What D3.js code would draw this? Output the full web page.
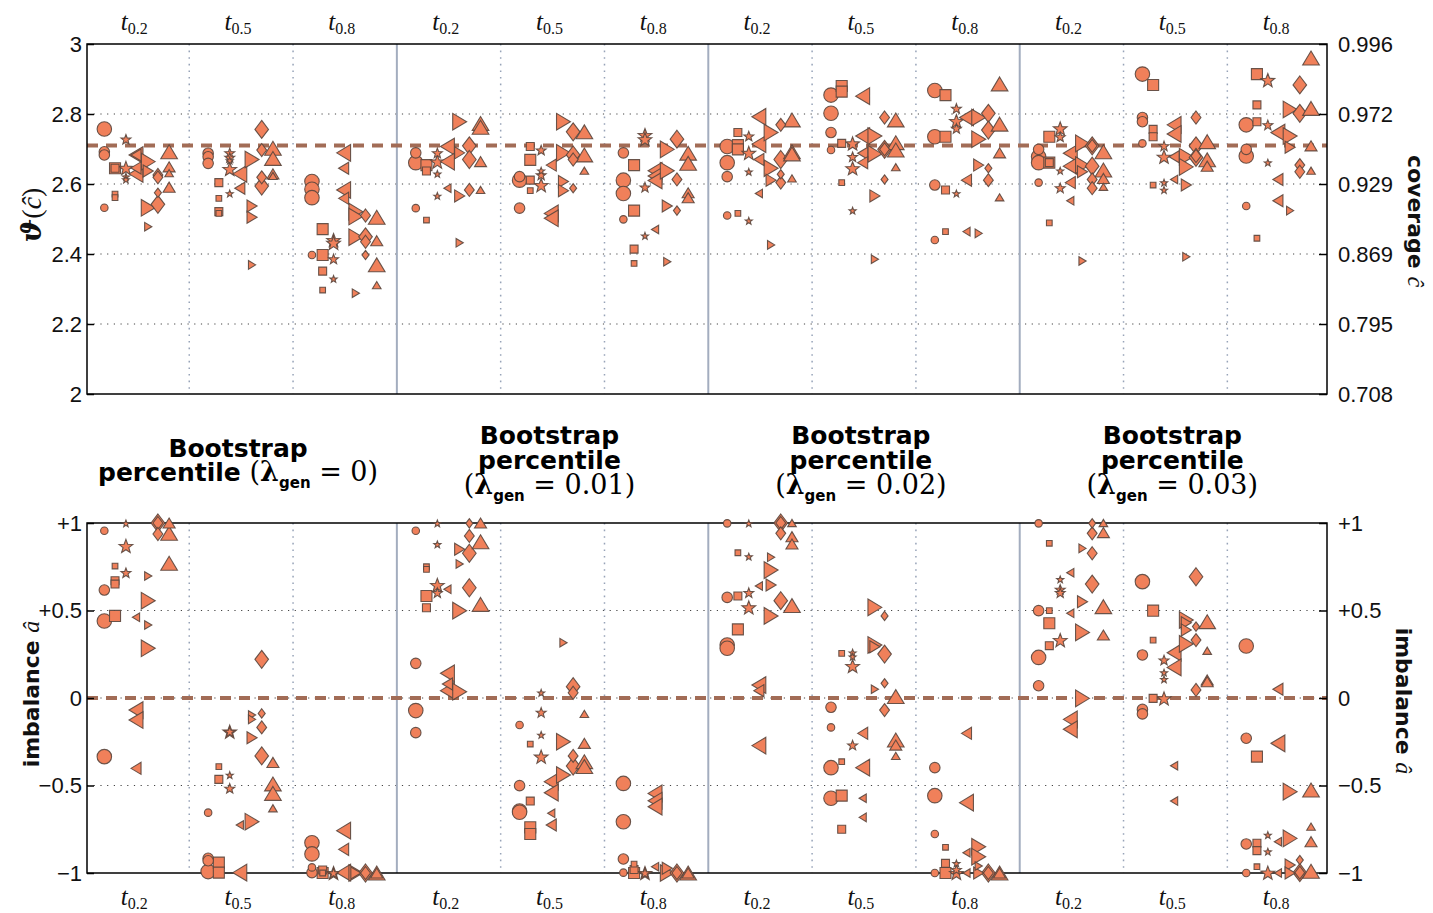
<!DOCTYPE html>
<html><head><meta charset="utf-8">
<script src="https://cdn.jsdelivr.net/npm/d3@7"></script>
<style>body{margin:0;background:#fff}</style>
</head><body>
<svg id="chart" width="1433" height="913"></svg>
<script>
// ---------- categories & tick labels ----------
const lambdaLabels = ["0", "0.01", "0.02", "0.03"];
const tLabels = ["0.2", "0.5", "0.8"];
const shapeCodes = ["o", "s", "p", "<", ">", "d", "^"];
const thetaTicks = [2, 2.2, 2.4, 2.6, 2.8, 3];
const coverageTickLabels = ["0.708", "0.795", "0.869", "0.929", "0.972", "0.996"];
const imbalanceTicks = [-1, -0.5, 0, 0.5, 1];
const imbalanceTickLabels = ["\u22121", "\u22120.5", "0", "+0.5", "+1"];
const thetaNominal = 2.71;
const imbalanceNominal = 0;

// ---------- series: [shape, size class (1 small, 2 medium, 3 large), value] ----------
// top panel: theta(c-hat)
const theta_L0_t02 = [["o",3,2.757],["o",2,2.692],["o",2,2.683],["o",1,2.532],["s",3,2.645],["s",2,2.645],["s",1,2.571],["s",1,2.561],["p",2,2.728],["p",3,2.646],["p",1,2.621],["p",1,2.613],["<",3,2.683],["<",2,2.683],["<",2,2.646],["<",3,2.629],[">",3,2.664],[">",2,2.637],[">",3,2.532],[">",1,2.478],["d",2,2.626],["d",2,2.619],["d",1,2.575],["d",3,2.542],["^",3,2.692],["^",2,2.649],["^",1,2.631],["^",2,2.591]];
const theta_L0_t05 = [["o",2,2.688],["o",2,2.678],["o",2,2.659],["s",2,2.604],["s",1,2.559],["s",2,2.521],["s",1,2.516],["p",2,2.689],["p",2,2.676],["p",1,2.667],["p",3,2.643],["p",1,2.573],["<",3,2.629],["<",2,2.588],[">",3,2.670],[">",2,2.537],[">",2,2.505],[">",1,2.369],["d",3,2.756],["d",2,2.697],["d",2,2.619],["d",3,2.594],["^",3,2.702],["^",3,2.673],["^",2,2.629],["^",1,2.623]];
const theta_L0_t08 = [["o",3,2.607],["o",3,2.585],["o",3,2.561],["o",1,2.397],["s",3,2.471],["s",3,2.397],["s",2,2.351],["s",1,2.297],["p",3,2.44],["p",3,2.432],["p",2,2.386],["p",1,2.329],["<",3,2.689],["<",2,2.645],["<",3,2.583],["<",2,2.559],[">",3,2.521],[">",3,2.507],[">",3,2.448],[">",1,2.288],["d",2,2.51],["d",3,2.449],["d",2,2.435],["d",1,2.397],["^",3,2.505],["^",2,2.438],["^",3,2.369],["^",1,2.311]];
const theta_L1_t02 = [["o",2,2.689],["o",3,2.661],["o",1,2.531],["s",3,2.654],["s",2,2.637],["s",1,2.497],["p",2,2.689],["p",3,2.664],["p",1,2.629],["p",1,2.566],["<",3,2.707],["<",3,2.664],["<",1,2.588],[">",3,2.778],[">",2,2.689],[">",2,2.566],[">",1,2.432],["d",3,2.709],["d",3,2.67],["d",2,2.583],["^",3,2.773],["^",3,2.762],["^",2,2.664],["^",1,2.583]];
const theta_L1_t05 = [["o",2,2.621],["o",3,2.611],["o",2,2.531],["s",2,2.707],["s",3,2.669],["s",2,2.611],["s",1,2.581],["p",2,2.697],["p",1,2.638],["p",2,2.626],["p",3,2.597],["<",2,2.654],["<",3,2.516],["<",3,2.502],[">",3,2.778],[">",3,2.689],[">",2,2.607],[">",2,2.581],["d",3,2.749],["d",3,2.683],["d",2,2.670],["d",1,2.588],["^",3,2.749],["^",3,2.683],["^",1,2.638]];
const theta_L1_t08 = [["o",2,2.689],["o",3,2.611],["o",3,2.573],["o",1,2.499],["s",3,2.654],["s",3,2.524],["s",2,2.414],["s",1,2.373],["p",3,2.74],["p",3,2.728],["p",2,2.591],["p",1,2.452],["<",3,2.638],["<",3,2.623],["<",3,2.61],["<",1,2.47],[">",3,2.699],[">",3,2.638],[">",2,2.537],[">",1,2.378],["d",3,2.728],["d",2,2.613],["d",1,2.524],["^",3,2.688],["^",3,2.659],["^",2,2.575],["^",2,2.561]];
const theta_L2_t02 = [["o",3,2.707],["o",3,2.661],["o",2,2.621],["o",1,2.51],["s",2,2.747],["s",3,2.711],["s",3,2.699],["s",1,2.516],["p",2,2.737],["p",3,2.689],["p",1,2.635],["p",1,2.495],["<",3,2.792],["<",3,2.714],["<",2,2.67],["<",1,2.573],[">",3,2.747],[">",3,2.645],[">",2,2.611],[">",1,2.426],["d",2,2.769],["d",3,2.67],["d",1,2.628],["d",2,2.604],["^",3,2.783],["^",3,2.692],["^",3,2.686],["^",1,2.616]];
const theta_L2_t05 = [["o",3,2.854],["o",3,2.802],["o",2,2.747],["o",1,2.697],["s",3,2.88],["s",3,2.864],["s",2,2.716],["s",1,2.604],["p",3,2.716],["p",2,2.678],["p",3,2.645],["p",1,2.524],["<",3,2.851],["<",3,2.737],["<",2,2.688],["<",2,2.661],[">",3,2.737],[">",3,2.686],[">",2,2.566],[">",1,2.385],["d",2,2.790],["d",3,2.699],["d",2,2.699],["d",1,2.613],["^",3,2.783],["^",3,2.718],["^",3,2.697],["^",1,2.648]];
const theta_L2_t08 = [["o",3,2.867],["o",3,2.735],["o",2,2.597],["o",1,2.44],["s",3,2.854],["s",3,2.735],["s",2,2.583],["s",1,2.464],["p",2,2.816],["p",3,2.78],["p",2,2.759],["p",1,2.573],["<",3,2.79],["<",2,2.611],["<",1,2.464],[">",3,2.79],[">",3,2.728],[">",2,2.654],[">",1,2.459],["d",3,2.802],["d",3,2.754],["d",1,2.645],["d",2,2.611],["^",3,2.886],["^",3,2.771],["^",2,2.689],["^",1,2.562]];
const theta_L3_t02 = [["o",2,2.699],["o",3,2.678],["o",3,2.661],["o",1,2.604],["s",3,2.735],["s",3,2.661],["s",2,2.661],["s",1,2.489],["p",3,2.759],["p",2,2.735],["p",1,2.638],["p",2,2.589],["<",3,2.688],["<",3,2.651],["<",2,2.604],["<",1,2.552],[">",3,2.716],[">",3,2.654],[">",2,2.635],[">",1,2.38],["d",3,2.709],["d",2,2.709],["d",3,2.651],["d",2,2.613],["d",2,2.588],["^",3,2.692],["^",3,2.64],["^",2,2.616],["^",1,2.592]];
const theta_L3_t05 = [["o",3,2.914],["o",2,2.79],["o",2,2.778],["o",1,2.716],["s",3,2.883],["s",2,2.756],["s",2,2.735],["s",1,2.597],["p",2,2.709],["p",3,2.678],["p",1,2.604],["p",1,2.583],["<",3,2.769],["<",3,2.743],["<",2,2.678],["<",1,2.613],[">",3,2.678],[">",3,2.649],[">",2,2.597],[">",1,2.392],["d",2,2.790],["d",3,2.709],["d",3,2.676],["d",2,2.68],["^",3,2.721],["^",3,2.669],["^",2,2.651]];
const theta_L3_t08 = [["o",3,2.769],["o",2,2.699],["o",3,2.68],["o",1,2.537],["s",3,2.914],["s",2,2.826],["s",2,2.778],["s",1,2.445],["p",3,2.897],["p",2,2.769],["p",1,2.661],["<",3,2.747],["<",2,2.613],["<",2,2.552],[">",3,2.813],[">",3,2.737],[">",2,2.705],[">",1,2.524],["d",3,2.883],["d",3,2.802],["d",2,2.654],["d",2,2.635],["^",3,2.96],["^",3,2.816],["^",2,2.709],["^",1,2.638]];

// bottom panel: imbalance a-hat
const imb_L0_t02 = [["o",1,0.956],["o",2,0.617],["o",3,0.44],["o",3,-0.335],["s",1,0.754],["s",2,0.67],["s",2,0.651],["s",3,0.469],["p",1,0.998],["p",3,0.869],["p",2,0.716],["<",1,0.461],["<",3,-0.069],["<",3,-0.126],["<",2,-0.402],[">",1,0.697],[">",3,0.556],[">",1,0.417],[">",3,0.284],["d",3,1.0],["d",2,1.0],["d",2,0.937],["^",2,1.0],["^",3,0.941],["^",3,0.77]];
const imb_L0_t05 = [["o",1,-0.655],["o",2,-0.916],["o",2,-0.93],["o",3,-0.992],["s",1,-0.392],["s",2,-0.465],["s",3,-0.941],["s",3,-0.998],["p",3,-0.192],["p",2,-0.192],["p",1,-0.44],["p",2,-0.516],["<",1,-0.726],["<",3,-0.998],[">",1,-0.097],[">",1,-0.122],[">",2,-0.227],[">",3,-0.707],["d",3,0.221],["d",1,-0.088],["d",2,-0.168],["d",3,-0.331],["^",2,-0.368],["^",3,-0.491],["^",3,-0.545],["^",1,-0.63]];
const imb_L0_t08 = [["o",3,-0.827],["o",3,-0.891],["o",1,-0.968],["o",2,-0.998],["s",2,-0.983],["s",3,-1.0],["s",1,-1.0],["p",3,-1.0],["p",2,-1.0],["<",3,-0.758],["<",2,-0.865],["<",3,-0.998],[">",3,-1.0],[">",2,-1.0],["d",3,-1.0],["d",2,-1.0],["^",3,-1.0],["^",2,-1.0]];
const imb_L1_t02 = [["o",1,0.956],["o",2,0.198],["o",3,-0.072],["o",2,-0.198],["s",1,0.75],["s",1,0.735],["s",3,0.583],["s",2,0.516],["p",1,0.998],["p",1,0.878],["p",3,0.646],["p",2,0.602],["<",1,0.621],["<",3,0.141],["<",2,0.08],["<",3,0.042],[">",2,0.85],[">",1,0.766],[">",3,0.499],[">",3,0.036],["d",1,0.998],["d",2,0.926],["d",3,0.827],["d",3,0.63],["^",2,1.0],["^",3,0.893],["^",3,0.535]];
const imb_L1_t05 = [["o",1,-0.154],["o",2,-0.501],["o",3,-0.646],["o",3,-0.653],["s",1,-0.263],["s",2,-0.589],["s",3,-0.739],["s",3,-0.777],["p",1,0.03],["p",2,-0.082],["p",1,-0.211],["p",3,-0.335],["<",3,-0.478],["<",3,-0.541],["<",1,-0.659],["<",2,-0.726],[">",1,0.316],[">",3,-0.25],[">",3,-0.44],["d",3,0.065],["d",2,0.03],["d",2,-0.331],["d",3,-0.389],["^",1,-0.091],["^",2,-0.259],["^",3,-0.364],["^",3,-0.392]];
const imb_L1_t08 = [["o",3,-0.488],["o",3,-0.707],["o",2,-0.92],["o",1,-0.998],["s",1,-0.949],["s",2,-0.98],["s",3,-1.0],["p",3,-1.0],["p",2,-1.0],["<",3,-0.545],["<",3,-0.587],["<",3,-0.621],["<",1,-0.964],[">",2,-0.973],[">",3,-1.0],["d",3,-1.0],["d",2,-1.0],["^",3,-1.0],["^",2,-1.0]];
const imb_L2_t02 = [["o",1,0.998],["o",2,0.575],["o",3,0.303],["o",3,0.284],["s",1,0.83],["s",2,0.583],["s",3,0.392],["p",1,0.998],["p",1,0.808],["p",2,0.602],["p",3,0.518],["<",1,0.64],["<",3,0.074],["<",2,0.042],["<",3,-0.272],[">",1,0.804],[">",3,0.731],[">",2,0.646],[">",3,0.469],["d",3,1.0],["d",2,1.0],["d",2,0.941],["d",3,0.556],["^",1,1.0],["^",2,0.922],["^",2,0.88],["^",3,0.528]];
const imb_L2_t05 = [["o",2,-0.053],["o",1,-0.168],["o",3,-0.398],["o",3,-0.573],["s",1,0.255],["s",1,-0.364],["s",3,-0.558],["s",2,-0.75],["p",1,0.259],["p",1,0.236],["p",3,0.183],["p",2,-0.269],["<",2,-0.202],["<",3,-0.398],["<",1,-0.573],["<",1,-0.682],[">",3,0.518],[">",3,0.303],[">",2,0.293],[">",1,0.05],["d",1,0.469],["d",3,0.251],["d",1,0.084],["d",2,-0.069],["^",3,0.008],["^",3,-0.24],["^",2,-0.269],["^",1,-0.331]];
const imb_L2_t08 = [["o",2,-0.398],["o",3,-0.558],["o",1,-0.777],["o",1,-1.0],["s",1,-0.853],["s",2,-0.945],["s",3,-1.0],["p",1,-0.945],["p",2,-0.98],["p",3,-1.0],["<",2,-0.202],["<",3,-0.598],["<",1,-0.884],["<",1,-1.0],[">",3,-0.85],[">",3,-0.907],[">",1,-0.96],[">",2,-1.0],["d",3,-1.0],["d",2,-1.0],["^",3,-1.0],["^",2,-1.0]];
const imb_L3_t02 = [["o",1,0.998],["o",2,0.499],["o",3,0.232],["o",2,0.07],["s",1,0.884],["s",1,0.499],["s",3,0.427],["s",2,0.299],["p",1,0.678],["p",2,0.621],["p",2,0.602],["p",3,0.331],["<",1,0.716],["<",1,0.484],["<",3,-0.122],["<",3,-0.179],[">",1,0.855],[">",2,0.55],[">",3,0.375],[">",3,-0.002],["d",1,0.998],["d",2,0.941],["d",2,0.827],["d",3,0.651],["^",1,1.0],["^",2,0.945],["^",3,0.522],["^",2,0.36]];
const imb_L3_t05 = [["o",3,0.665],["o",2,0.246],["o",2,-0.065],["o",2,-0.091],["s",3,0.499],["s",1,0.331],["s",2,-0.002],["p",2,0.217],["p",1,0.145],["p",1,0.107],["p",3,-0.002],["<",3,0.259],["<",3,0.175],["<",1,-0.387],["<",1,-0.589],[">",3,0.446],[">",2,0.43],[">",2,0.389],[">",3,0.309],["d",3,0.693],["d",1,0.408],["d",2,0.331],["d",2,0.046],["^",3,0.436],["^",1,0.27],["^",2,0.103],["^",2,0.093]];
const imb_L3_t08 = [["o",3,0.297],["o",2,-0.23],["o",2,-0.834],["o",1,-1.0],["s",3,-0.335],["s",2,-0.83],["s",2,-0.872],["s",1,-0.964],["p",1,-0.783],["p",1,-0.878],["p",3,-0.998],["<",2,0.05],["<",3,-0.259],["<",1,-0.821],["<",1,-1.0],[">",3,-0.535],[">",3,-0.802],[">",2,-0.954],[">",2,-1.0],["d",1,-0.926],["d",3,-0.998],["d",2,-0.998],["^",3,-0.526],["^",1,-0.735],["^",2,-0.821],["^",3,-0.99]];

const thetaGroups = [theta_L0_t02, theta_L0_t05, theta_L0_t08, theta_L1_t02, theta_L1_t05, theta_L1_t08,
                     theta_L2_t02, theta_L2_t05, theta_L2_t08, theta_L3_t02, theta_L3_t05, theta_L3_t08];
const imbGroups = [imb_L0_t02, imb_L0_t05, imb_L0_t08, imb_L1_t02, imb_L1_t05, imb_L1_t08,
                   imb_L2_t02, imb_L2_t05, imb_L2_t08, imb_L3_t02, imb_L3_t05, imb_L3_t08];

// ---------- styling / layout ----------
const FILL = "#f0805a", EDGE = "#5a463d";
const sizePx = {1: 7.5, 2: 10.5, 3: 14.5};
const shapeOffset = {"o": -0.288, "s": -0.185, "p": -0.08, "<": 0.017, ">": 0.135, "d": 0.228, "^": 0.336};
const X0 = 87, X1 = 1327;
const x = d3.scaleLinear().domain([-0.455, 11.49]).range([X0, X1]);
const yT = d3.scaleLinear().domain([2, 3]).range([394, 44]);
const yB = d3.scaleLinear().domain([-1, 1]).range([873, 523]);

function shapeType(code) {
  return { draw(ctx, D) {
    if (code === "o") { const r = D / 2; ctx.moveTo(r, 0); ctx.arc(0, 0, r, 0, 2 * Math.PI); return; }
    if (code === "s") { const h = 0.38 * D; ctx.rect(-h, -h, 2 * h, 2 * h); return; }
    if (code === "p") {
      const R = 0.5 * D, r = R * 0.42;
      for (let i = 0; i < 10; i++) {
        const a = -Math.PI / 2 + i * Math.PI / 5, rr = i % 2 ? r : R;
        const px = rr * Math.cos(a), py = rr * Math.sin(a) + 0.05 * D;
        i ? ctx.lineTo(px, py) : ctx.moveTo(px, py);
      }
      ctx.closePath(); return;
    }
    if (code === "d") { const w = 0.47 * D, h = 0.62 * D; ctx.moveTo(0, -h); ctx.lineTo(w, 0); ctx.lineTo(0, h); ctx.lineTo(-w, 0); ctx.closePath(); return; }
    const w = 0.575 * D, h = 0.48 * D;
    if (code === "^") { ctx.moveTo(0, -h); ctx.lineTo(w, h); ctx.lineTo(-w, h); }
    if (code === "<") { ctx.moveTo(-h, 0); ctx.lineTo(h, -w); ctx.lineTo(h, w); }
    if (code === ">") { ctx.moveTo(h, 0); ctx.lineTo(-h, -w); ctx.lineTo(-h, w); }
    ctx.closePath();
  }};
}
const symbolTypes = {};
shapeCodes.forEach(c => symbolTypes[c] = shapeType(c));

const svg = d3.select("#chart");

function drawPanel(y, gridVals, nominal, groups, top) {
  const g = svg.append("g");
  const [yb, yt] = y.range();
  g.selectAll(".hg").data(gridVals).join("line")
    .attr("x1", X0).attr("x2", X1).attr("y1", d => y(d)).attr("y2", d => y(d))
    .attr("stroke", "#444").attr("stroke-width", 1).attr("stroke-dasharray", "1.2,5.5");
  const dots = [0.53, 1.53, 3.53, 4.53, 6.53, 7.53, 9.53, 10.53];
  g.selectAll(".vg").data(dots).join("line")
    .attr("x1", d => x(d)).attr("x2", d => x(d)).attr("y1", yt).attr("y2", yb)
    .attr("stroke", "#97a3b8").attr("stroke-width", 1.5).attr("stroke-dasharray", "1.6,5");
  g.selectAll(".sep").data([2.53, 5.53, 8.53]).join("line")
    .attr("x1", d => x(d)).attr("x2", d => x(d)).attr("y1", yt).attr("y2", yb)
    .attr("stroke", "#a3adbf").attr("stroke-width", 2);
  g.append("line").attr("x1", X0).attr("x2", X1).attr("y1", y(nominal)).attr("y2", y(nominal))
    .attr("stroke", "#a26c56").attr("stroke-width", 4).attr("stroke-dasharray", "11,8");
  g.append("rect").attr("x", X0).attr("y", yt).attr("width", X1 - X0).attr("height", yb - yt)
    .attr("fill", "none").attr("stroke", "#000").attr("stroke-width", 1.5);
  const pts = [];
  groups.forEach((arr, gi) => arr.forEach(p => pts.push({gi, shape: p[0], size: p[1], v: p[2]})));
  pts.sort((a, b) => b.size - a.size);
  g.selectAll(".m").data(pts).join("path")
    .attr("transform", d => `translate(${x(d.gi + shapeOffset[d.shape])},${y(d.v)})`)
    .attr("d", d => d3.symbol().type(symbolTypes[d.shape]).size(sizePx[d.size])())
    .attr("fill", FILL).attr("stroke", EDGE).attr("stroke-width", 1.1).attr("stroke-opacity", 0.9);
  const ty = top ? 30 : 905;
  for (let gi = 0; gi < 12; gi++) {
    const t = g.append("text").attr("x", x(gi)).attr("y", ty).attr("text-anchor", "middle").attr("fill", "#111");
    t.append("tspan").text("t").attr("font-family", "Liberation Serif").attr("font-style", "italic").attr("font-size", 25);
    t.append("tspan").text(tLabels[gi % 3]).attr("font-family", "Liberation Serif").attr("font-size", 16).attr("dy", 4);
  }
}

drawPanel(yT, [2.2, 2.4, 2.6, 2.8], thetaNominal, thetaGroups, true);
drawPanel(yB, [-0.5, 0, 0.5], imbalanceNominal, imbGroups, false);

// ---------- y axes ----------
function styleAxis(sel) {
  sel.select(".domain").remove();
  sel.selectAll(".tick line").attr("stroke", "#000").attr("stroke-width", 1.5);
  sel.selectAll(".tick text").attr("font-family", "Liberation Sans").attr("font-size", 22).attr("fill", "#111");
}
svg.append("g").attr("transform", `translate(${X0},0)`)
  .call(d3.axisLeft(yT).tickValues(thetaTicks).tickFormat(d3.format("~g")).tickSize(-7).tickPadding(5)).call(styleAxis);
svg.append("g").attr("transform", `translate(${X1},0)`)
  .call(d3.axisRight(yT).tickValues(thetaTicks).tickFormat((d, i) => coverageTickLabels[i]).tickSize(-8).tickPadding(11)).call(styleAxis);
svg.append("g").attr("transform", `translate(${X0},0)`)
  .call(d3.axisLeft(yB).tickValues(imbalanceTicks).tickFormat((d, i) => imbalanceTickLabels[i]).tickSize(-7).tickPadding(5)).call(styleAxis);
svg.append("g").attr("transform", `translate(${X1},0)`)
  .call(d3.axisRight(yB).tickValues(imbalanceTicks).tickFormat((d, i) => imbalanceTickLabels[i]).tickSize(-8).tickPadding(11)).call(styleAxis);

// ---------- axis titles ----------
function rotLabel(cx, cy, rot, parts) {
  const t = svg.append("text").attr("transform", `translate(${cx},${cy}) rotate(${rot})`)
    .attr("text-anchor", "middle").attr("dominant-baseline", "central").attr("fill", "#111");
  parts.forEach(p => {
    const s = t.append("tspan").text(p.text).attr("font-family", p.ff).attr("font-size", p.fs);
    if (p.fw) s.attr("font-weight", p.fw);
    if (p.it) s.attr("font-style", "italic");
  });
}
rotLabel(31, 215, -90, [{text: "\u03D1", ff: "DejaVu Serif", fs: 28, fw: "bold", it: true}, {text: "(", ff: "Liberation Serif", fs: 28}, {text: "\u0109", ff: "Liberation Serif", fs: 28, it: true}, {text: ")", ff: "Liberation Serif", fs: 28}]);
rotLabel(1416, 221, 90, [{text: "coverage ", ff: "DejaVu Sans", fs: 22, fw: "bold"}, {text: "\u0109", ff: "Liberation Serif", fs: 24, it: true}]);
rotLabel(31, 694, -90, [{text: "imbalance ", ff: "DejaVu Sans", fs: 22, fw: "bold"}, {text: "\u00E2", ff: "Liberation Serif", fs: 24, it: true}]);
rotLabel(1404, 701, 90, [{text: "imbalance ", ff: "DejaVu Sans", fs: 22, fw: "bold"}, {text: "\u00E2", ff: "Liberation Serif", fs: 24, it: true}]);

// ---------- method titles ----------
function mathPart(t, lam) {
  t.append("tspan").text("(").attr("font-family", "DejaVu Serif").attr("font-size", 27);
  t.append("tspan").text("\u03BB").attr("font-family", "DejaVu Serif").attr("font-size", 27).attr("font-weight", "bold");
  t.append("tspan").text("gen").attr("font-family", "DejaVu Sans").attr("font-weight", "bold").attr("font-size", 15).attr("dy", 7);
  t.append("tspan").text(" = " + lam + ")").attr("font-family", "DejaVu Serif").attr("font-size", 27).attr("dy", -7);
}
lambdaLabels.forEach((lam, m) => {
  const cx = x(3 * m + 1);
  const bold = s => s.attr("font-family", "DejaVu Sans").attr("font-weight", "bold").attr("font-size", 25);
  if (m === 0) {
    svg.append("text").attr("x", cx).attr("y", 457).attr("text-anchor", "middle").text("Bootstrap").call(bold);
    const t = svg.append("text").attr("x", cx).attr("y", 481).attr("text-anchor", "middle");
    t.append("tspan").text("percentile ").call(bold);
    mathPart(t, lam);
  } else {
    svg.append("text").attr("x", cx).attr("y", 444).attr("text-anchor", "middle").text("Bootstrap").call(bold);
    svg.append("text").attr("x", cx).attr("y", 469).attr("text-anchor", "middle").text("percentile").call(bold);
    const t = svg.append("text").attr("x", cx).attr("y", 494).attr("text-anchor", "middle");
    mathPart(t, lam);
  }
});
</script>
</body></html>
